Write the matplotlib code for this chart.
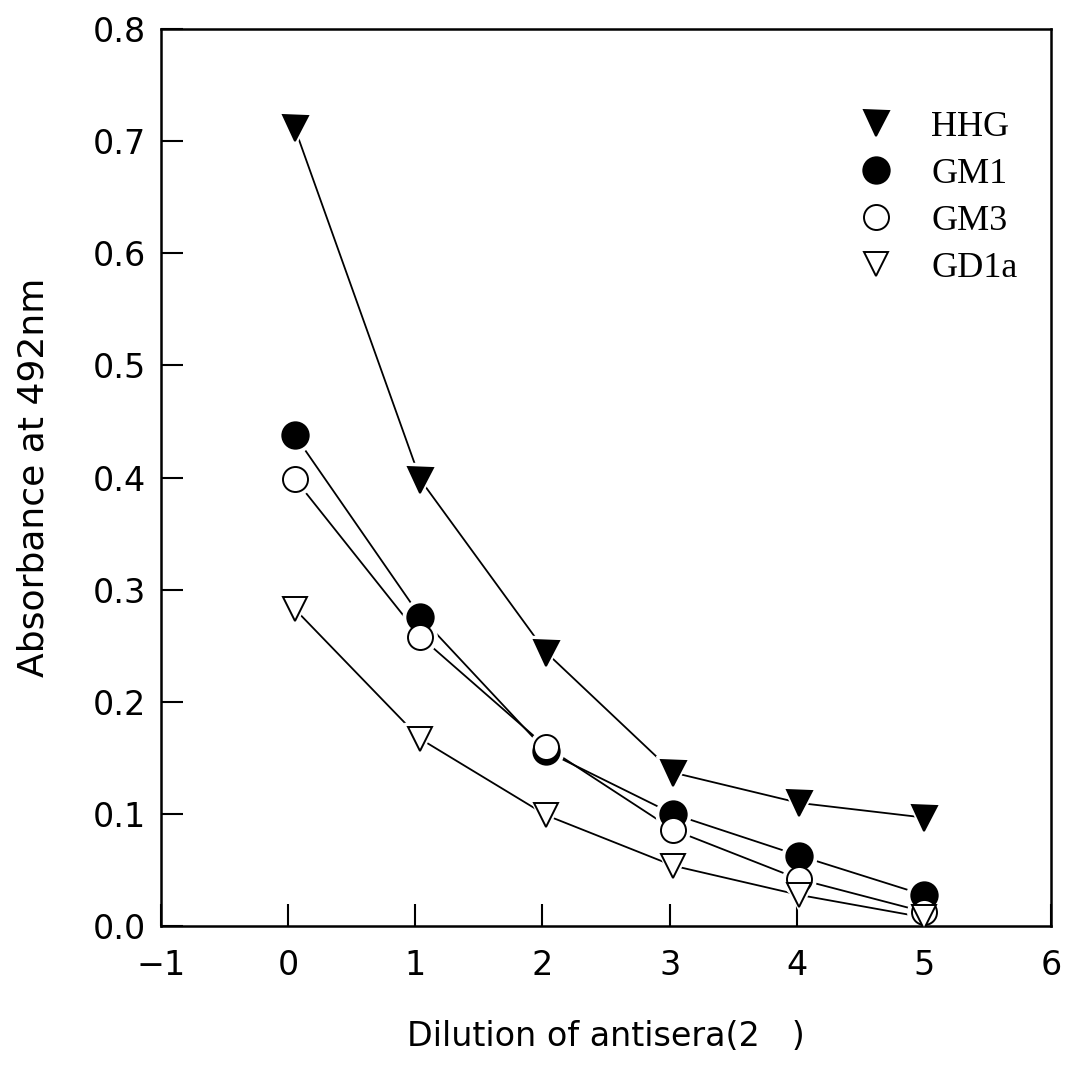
# Absorbance at 492nm vs. dilution of antisera
import numpy as np
import matplotlib.pyplot as plt

dilution = [0.05, 1.04, 2.03, 3.03, 4.02, 5.0]
hhg  = [0.712, 0.398, 0.244, 0.137, 0.110, 0.097]
gm1  = [0.438, 0.276, 0.156, 0.100, 0.063, 0.028]
gm3  = [0.399, 0.258, 0.160, 0.086, 0.042, 0.013]
gd1a = [0.283, 0.167, 0.099, 0.054, 0.028, 0.008]

xticks = [-1, 0, 1, 2, 3, 4, 5, 6]
yticks = [0.0, 0.1, 0.2, 0.3, 0.4, 0.5, 0.6, 0.7, 0.8]

sans = ['DejaVu Sans']
serif = ['Liberation Serif', 'DejaVu Serif']

fig = plt.figure(figsize=(10.67, 10.66), dpi=100)
ax = fig.add_axes([0.151, 0.131, 0.834, 0.842])

series = [
    ('HHG',  hhg,  'v', 'k', 18),
    ('GM1',  gm1,  'o', 'k', 19),
    ('GM3',  gm3,  'o', 'w', 18),
    ('GD1a', gd1a, 'v', 'w', 17),
]

handles = []
for name, y, m, fc, ms in series:
    # line under everything, white mask makes the little gap round each marker
    ax.plot(dilution, y, color='k', linewidth=1.3, zorder=1)
    ax.plot(dilution, y, linestyle='none', marker=m, markersize=ms + 6,
            markerfacecolor='w', markeredgecolor='w', zorder=2)
    h, = ax.plot(dilution, y, linestyle='none', marker=m, markersize=ms,
                 markerfacecolor=fc, markeredgecolor='k', markeredgewidth=1.4,
                 zorder=3, label=name)
    handles.append(h)

ax.set_xlim(-1, 6)
ax.set_ylim(0, 0.8)
ax.set_xticks(xticks)
ax.set_yticks(yticks)
ax.set_xticklabels(['\u22121' if t < 0 else str(t) for t in xticks],
                   family=sans, fontsize=24)
ax.set_yticklabels(['%.1f' % t for t in yticks], family=sans, fontsize=24)
ax.tick_params(direction='in', length=16, width=1.5)
ax.tick_params(axis='y', pad=11)
ax.tick_params(axis='x', pad=16)
for s in ax.spines.values():
    s.set_linewidth(1.8)

ax.set_xlabel('Dilution of antisera(2   )', family=sans, fontsize=24,
              labelpad=28)
ax.set_ylabel('Absorbance at 492nm', family=sans, fontsize=26, labelpad=30)

ax.legend(handles=handles, loc='upper left', bbox_to_anchor=(0.767, 0.925),
          frameon=False, prop={'family': serif, 'size': 26},
          handlelength=1.0, handletextpad=1.03, labelspacing=0.38,
          borderaxespad=0)

plt.savefig('out.png', dpi=100)
